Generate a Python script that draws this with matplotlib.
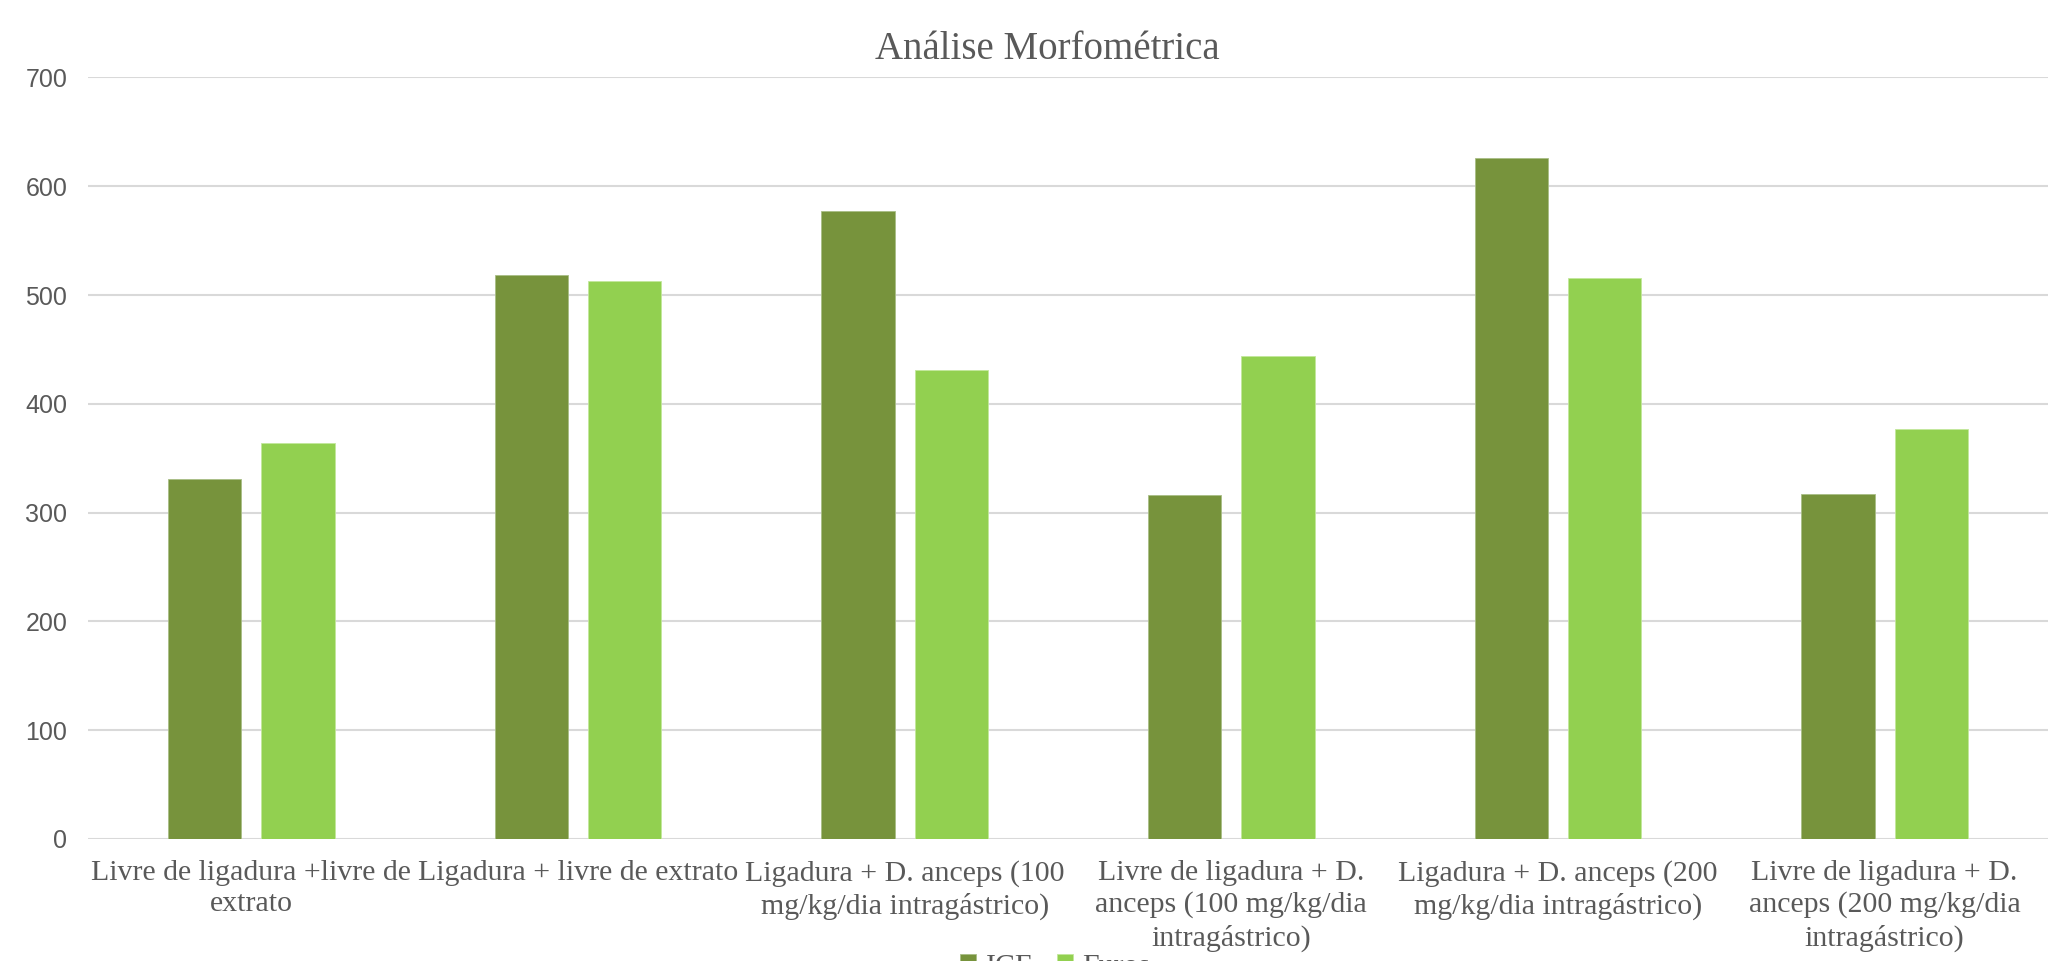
import matplotlib
matplotlib.use("Agg")
import matplotlib.pyplot as plt
import numpy as np

# dados
categorias = [
    "Livre de ligadura +livre de\nextrato",
    "Ligadura + livre de extrato",
    "Ligadura + D. anceps (100\nmg/kg/dia intragástrico)",
    "Livre de ligadura + D.\nanceps (100 mg/kg/dia\nintragástrico)",
    "Ligadura + D. anceps (200\nmg/kg/dia intragástrico)",
    "Livre de ligadura + D.\nanceps (200 mg/kg/dia\nintragástrico)",
]
ice = [331, 518, 577, 316, 626, 317]
furos = [364, 513, 431, 444, 516, 377]
series = ["ICE", "Furos"]
yticks = [0, 100, 200, 300, 400, 500, 600, 700]

GRAY = "#595959"
SERIF = "Liberation Serif"
SANS = "Liberation Sans"

fig = plt.figure(figsize=(20.51, 9.61), dpi=100)
ax = fig.add_axes([0.0429, 0.127, 0.9556, 0.7924])

x = np.arange(len(categorias))
w = 0.2245
off = 0.1428
ax.bar(x - off, ice, width=w, color="#77933C", edgecolor="#A9BE86", linewidth=0.6,
       label=series[0], zorder=3)
ax.bar(x + off, furos, width=w, color="#92D050", edgecolor="#C3E89C", linewidth=0.6,
       label=series[1], zorder=3)

ax.set_xlim(-0.5, len(categorias) - 0.5)
ax.set_ylim(0, 700)
ax.set_yticks(yticks)
ax.set_yticklabels([str(v) for v in yticks], fontsize=18, color=GRAY, family=SANS)
ax.set_xticks(x)
ax.set_xticklabels(categorias, fontsize=21.5, color=GRAY, family=SERIF, linespacing=1.28)
ax.tick_params(axis="both", length=0)
ax.tick_params(axis="y", pad=15)
ax.tick_params(axis="x", pad=15)
ax.grid(axis="y", color="#D9D9D9", linewidth=1.5, zorder=0)
for s in ax.spines.values():
    s.set_visible(False)

fig.text(0.5105, 1 - 59 / 961, "Análise Morfométrica", ha="center", va="baseline",
         fontsize=28, color=GRAY, family=SERIF)

fig.legend(loc="upper left", bbox_to_anchor=(960 / 2051, 1 - 954 / 961),
           ncol=2, frameon=False, borderpad=0, borderaxespad=0,
           handlelength=0.55, handleheight=0.55,
           handletextpad=0.3, columnspacing=0.78,
           prop={"family": SERIF, "size": 21.5}, labelcolor=GRAY)

fig.savefig("out.png", dpi=100, facecolor="white")
